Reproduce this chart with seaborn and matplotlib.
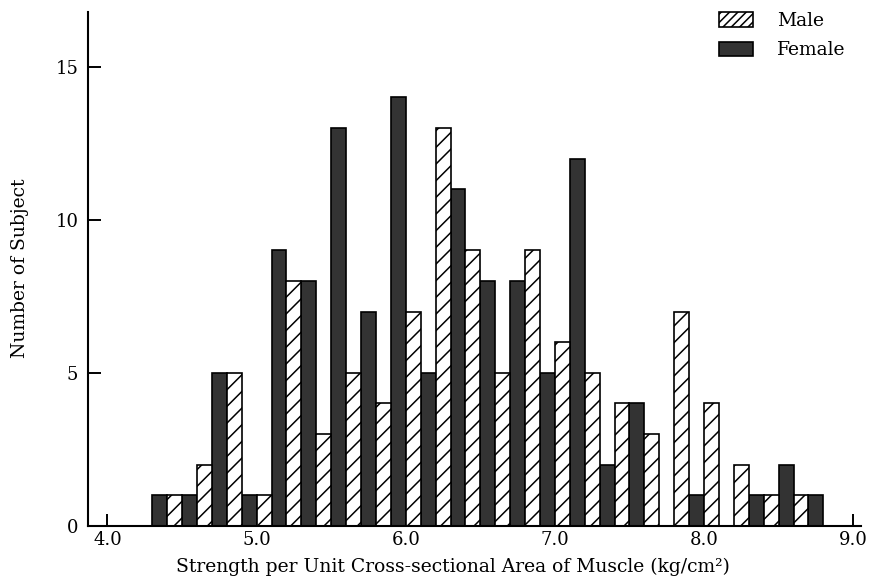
import matplotlib
matplotlib.use("Agg")
import matplotlib.pyplot as plt
import matplotlib.patches as mpatches
import numpy as np
import pandas as pd
import seaborn as sns

# Class midpoints of strength per unit cross-sectional area (kg/cm^2)
strength = [4.4, 4.6, 4.8, 5.0, 5.2, 5.4, 5.6, 5.8, 6.0, 6.2, 6.4, 6.6,
            6.8, 7.0, 7.2, 7.4, 7.6, 7.8, 8.0, 8.2, 8.4, 8.6, 8.8]
# Number of subjects in each class
female = [1, 1, 5, 1, 9, 8, 13, 7, 14, 5, 11, 8, 8, 5, 12, 2, 4, 0, 1, 0, 1, 2, 1]
male = [1, 2, 5, 1, 8, 3, 5, 4, 7, 13, 9, 5, 9, 6, 5, 4, 3, 7, 4, 2, 1, 1, 0]

xticks = [4.0, 5.0, 6.0, 7.0, 8.0, 9.0]
yticks = [0, 5, 10, 15]

df = pd.concat([
    pd.DataFrame({"strength": strength, "count": female, "sex": "Female"}),
    pd.DataFrame({"strength": strength, "count": male, "sex": "Male"}),
], ignore_index=True)

sns.set_style("white")
plt.rcParams["font.family"] = ["DejaVu Serif"]
plt.rcParams["hatch.linewidth"] = 1.1
plt.rcParams["hatch.color"] = "black"
plt.rcParams["text.color"] = "black"
plt.rcParams["axes.labelcolor"] = "black"

fig = plt.figure(figsize=(8.72, 5.81), dpi=100)
ax = fig.add_axes([0.101, 0.095, 0.886, 0.885])

female_color = "#333333"
sns.barplot(data=df, x="strength", y="count", hue="sex",
            hue_order=["Female", "Male"],
            palette={"Female": female_color, "Male": "white"},
            native_scale=True, dodge=True, width=1.0, saturation=1,
            edgecolor="black", linewidth=1.2, legend=False, ax=ax)

# Male bars carry a diagonal hatch
for bar in ax.containers[1]:
    bar.set_hatch("//")

ax.set_xlim(3.87, 9.05)
ax.set_ylim(0, 16.8)
ax.set_xticks(xticks)
ax.set_xticklabels([f"{t:.1f}" for t in xticks])
ax.set_yticks(yticks)
ax.set_yticklabels([str(t) for t in yticks])

for side in ("top", "right"):
    ax.spines[side].set_visible(False)
for side in ("left", "bottom"):
    ax.spines[side].set_linewidth(1.5)
    ax.spines[side].set_color("black")

ax.tick_params(axis="both", which="major", bottom=True, left=True,
               direction="in", length=9, width=1.4,
               labelsize=13, colors="black", pad=4)
ax.tick_params(axis="y", pad=7)

ax.set_xlabel("Strength per Unit Cross-sectional Area of Muscle (kg/cm²)",
              fontsize=13.5)
ax.set_ylabel("Number of Subject", fontsize=13.5)
ax.xaxis.set_label_coords(0.472, -0.062)
ax.yaxis.set_label_coords(-0.077, 0.5)

handles = [
    mpatches.Patch(facecolor="white", edgecolor="black", hatch="////",
                   linewidth=1.2, label="Male"),
    mpatches.Patch(facecolor=female_color, edgecolor="black",
                   linewidth=1.2, label="Female"),
]
fig.legend(handles=handles, loc="upper left", bbox_to_anchor=(0.805, 1.008),
           frameon=False, fontsize=13.5, handlelength=1.8, handleheight=0.85,
           handletextpad=1.3, labelspacing=0.6)

fig.savefig("out.png", dpi=100, facecolor="white")
